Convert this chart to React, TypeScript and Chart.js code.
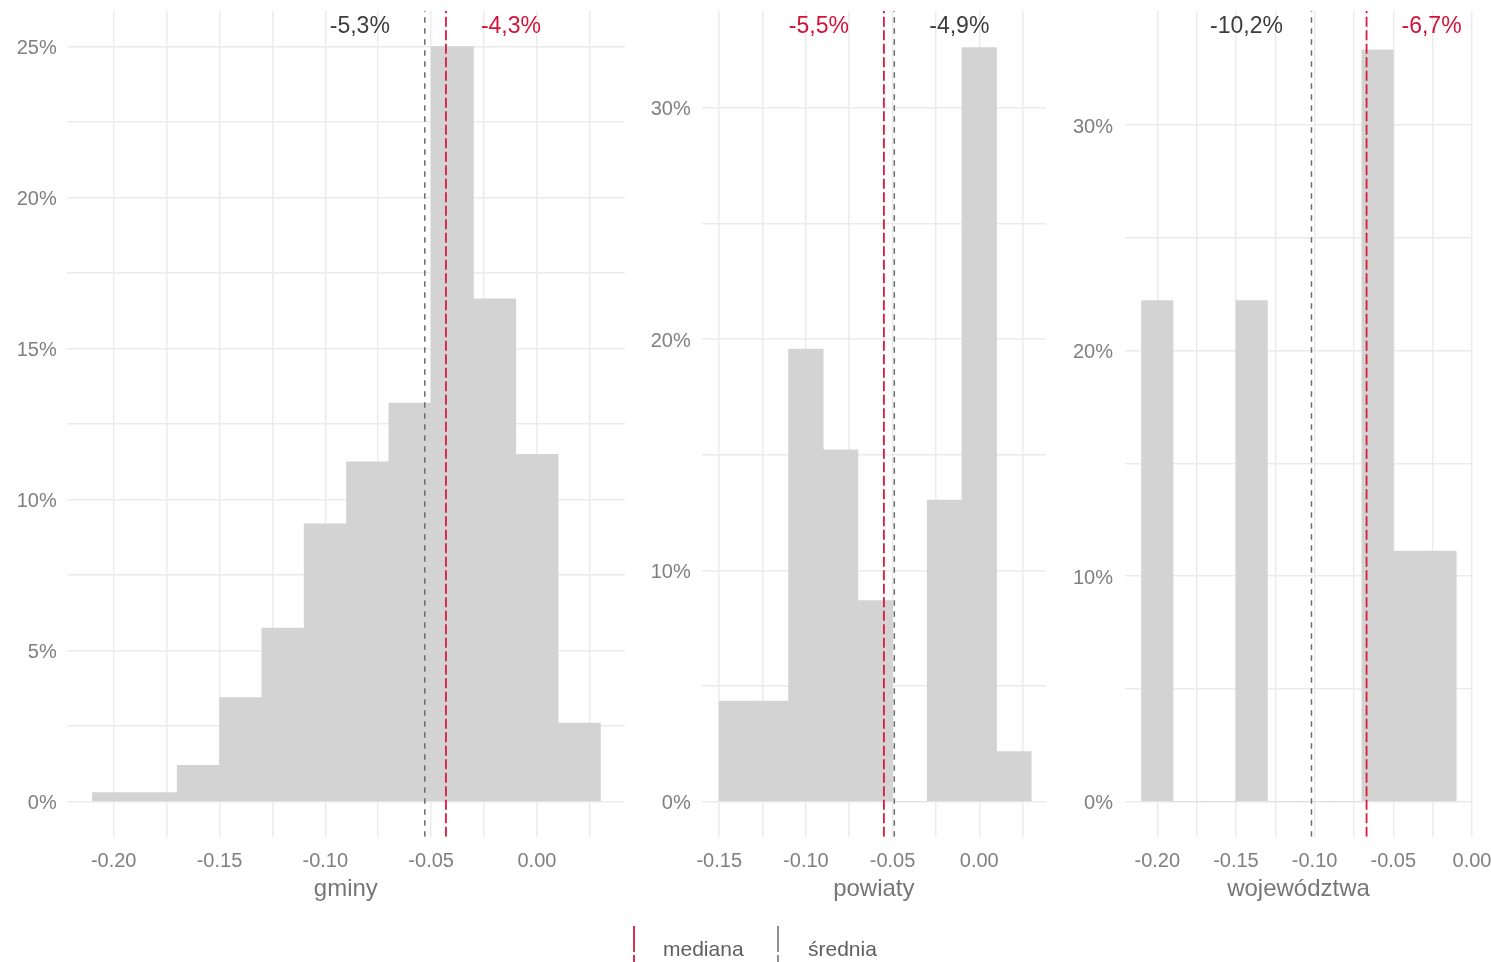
import React, { useEffect, useRef } from 'react';
import { Chart, registerables } from 'chart.js';

Chart.register(...registerables);

// ---- gminy ----
const gminyBins = [-0.2, -0.18, -0.16, -0.14, -0.12, -0.1, -0.08, -0.06, -0.04, -0.02, 0.0, 0.02];
const gminyShare = [0.3, 0.3, 1.2, 3.45, 5.75, 9.2, 11.25, 13.2, 25.0, 16.65, 11.5, 2.6];
const gminyMean = -0.053;
const gminyMedian = -0.043;
const gminyXTicks = [-0.2, -0.175, -0.15, -0.125, -0.1, -0.075, -0.05, -0.025, 0.0, 0.025];
const gminyXLabels = ['-0.20', '', '-0.15', '', '-0.10', '', '-0.05', '', '0.00', ''];
const gminyYTicks = [0, 2.5, 5, 7.5, 10, 12.5, 15, 17.5, 20, 22.5, 25];
const gminyYLabels = ['0%', '', '5%', '', '10%', '', '15%', '', '20%', '', '25%'];

// ---- powiaty ----
const powiatyBins = [-0.14, -0.12, -0.1, -0.08, -0.06, -0.04, -0.02, 0.0, 0.02];
const powiatyShare = [4.35, 4.35, 19.57, 15.22, 8.7, 0, 13.04, 32.61, 2.17];
const powiatyMean = -0.049;
const powiatyMedian = -0.055;
const powiatyXTicks = [-0.15, -0.125, -0.1, -0.075, -0.05, -0.025, 0.0, 0.025];
const powiatyXLabels = ['-0.15', '', '-0.10', '', '-0.05', '', '0.00', ''];
const powiatyYTicks = [0, 5, 10, 15, 20, 25, 30];
const powiatyYLabels = ['0%', '', '10%', '', '20%', '', '30%'];

// ---- województwa ----
const wojBins = [-0.2, -0.18, -0.16, -0.14, -0.12, -0.1, -0.08, -0.06, -0.04, -0.02];
const wojShare = [22.22, 0, 0, 22.22, 0, 0, 0, 33.33, 11.11, 11.11];
const wojMean = -0.102;
const wojMedian = -0.067;
const wojXTicks = [-0.2, -0.175, -0.15, -0.125, -0.1, -0.075, -0.05, -0.025, 0.0];
const wojXLabels = ['-0.20', '', '-0.15', '', '-0.10', '', '-0.05', '', '0.00'];
const wojYTicks = [0, 5, 10, 15, 20, 25, 30];
const wojYLabels = ['0%', '', '10%', '', '20%', '', '30%'];

const FONT = '"Liberation Sans", Arial, sans-serif';
const BAR = '#d3d3d3';
const GRID = '#ebebeb';
const TICK = '#808080';
const TITLE = '#777777';
const MEAN_COLOR = '#6b6b6b';
const MEDIAN_COLOR = '#d81b40';
const MEAN_TEXT = '#3d3d3d';
const MEDIAN_TEXT = '#d3123a';
const CANVAS_H = 909;

type Panel = {
  title: string;
  bins: number[];
  share: number[];
  mean: number;
  median: number;
  xTicks: number[];
  xLabels: string[];
  yTicks: number[];
  yLabels: string[];
  xMin: number;
  xMax: number;
  yMin: number;
  yMax: number;
  left: number;
  width: number;
  yAxisWidth: number;
  padRight: number;
  yTickPad: number;
};

const panels: Panel[] = [
  {
    title: 'gminy', bins: gminyBins, share: gminyShare, mean: gminyMean, median: gminyMedian,
    xTicks: gminyXTicks, xLabels: gminyXLabels, yTicks: gminyYTicks, yLabels: gminyYLabels,
    xMin: -0.2222, xMax: 0.0416, yMin: -1.16, yMax: 26.19,
    left: 0, width: 640, yAxisWidth: 66.7, padRight: 15, yTickPad: 10,
  },
  {
    title: 'powiaty', bins: powiatyBins, share: powiatyShare, mean: powiatyMean, median: powiatyMedian,
    xTicks: powiatyXTicks, xLabels: powiatyXLabels, yTicks: powiatyYTicks, yLabels: powiatyYLabels,
    xMin: -0.1601, xMax: 0.0385, yMin: -1.51, yMax: 34.2,
    left: 640, width: 420, yAxisWidth: 61.7, padRight: 14, yTickPad: 11,
  },
  {
    title: 'województwa', bins: wojBins, share: wojShare, mean: wojMean, median: wojMedian,
    xTicks: wojXTicks, xLabels: wojXLabels, yTicks: wojYTicks, yLabels: wojYLabels,
    xMin: -0.2205, xMax: 0.0, yMin: -1.55, yMax: 35.07,
    left: 1060, width: 440, yAxisWidth: 65, padRight: 28, yTickPad: 12,
  },
];

const formatPct = (v: number) => (v * 100).toFixed(1).replace('.', ',') + '%';

// Writes the mean / median values above the plot, beside their reference lines.
const valueLabels = {
  id: 'valueLabels',
  afterDatasetsDraw(chart: any, _args: any, opts: any) {
    const { ctx, scales } = chart;
    const x = scales.x;
    const items = [
      { v: opts.mean, color: MEAN_TEXT },
      { v: opts.median, color: MEDIAN_TEXT },
    ];
    const lowest = Math.min(opts.mean, opts.median);
    ctx.save();
    ctx.font = `23px ${FONT}`;
    ctx.textAlign = 'center';
    ctx.textBaseline = 'middle';
    for (const it of items) {
      const px = x.getPixelForValue(it.v);
      const cx = it.v === lowest ? px - 65 : px + 65;
      ctx.fillStyle = it.color;
      ctx.fillText(formatPct(it.v), cx, 27);
    }
    ctx.restore();
  },
};

function HistPanel({ p }: { p: Panel }) {
  const ref = useRef<HTMLCanvasElement | null>(null);

  useEffect(() => {
    if (!ref.current) return;
    const chart = new Chart(ref.current, {
      type: 'bar',
      data: {
        datasets: [
          {
            type: 'line',
            label: 'średnia',
            data: [{ x: p.mean, y: p.yMin }, { x: p.mean, y: p.yMax }],
            borderColor: MEAN_COLOR,
            borderWidth: 1.5,
            borderDash: [5.5, 5.5],
            pointRadius: 0,
            fill: false,
            order: 1,
          },
          {
            type: 'line',
            label: 'mediana',
            data: [{ x: p.median, y: p.yMin }, { x: p.median, y: p.yMax }],
            borderColor: MEDIAN_COLOR,
            borderWidth: 1.8,
            borderDash: [10, 3.5],
            pointRadius: 0,
            fill: false,
            order: 1,
          },
          {
            type: 'bar',
            label: p.title,
            data: p.bins.map((b, i) => ({ x: b, y: p.share[i] })),
            backgroundColor: BAR,
            borderWidth: 0,
            barPercentage: 1,
            categoryPercentage: 1,
            order: 2,
          },
        ] as any,
      },
      options: {
        animation: false,
        responsive: false,
        maintainAspectRatio: false,
        layout: { padding: { top: 10.7, right: p.padRight, left: 0, bottom: 0 } },
        scales: {
          x: {
            type: 'linear',
            min: p.xMin,
            max: p.xMax,
            bounds: 'data',
            offset: false,
            grid: { color: GRID, lineWidth: 1.5, drawTicks: false, offset: false },
            border: { display: false },
            afterBuildTicks: (s: any) => {
              s.ticks = p.xTicks.map((v) => ({ value: v }));
            },
            ticks: {
              autoSkip: false,
              maxRotation: 0,
              minRotation: 0,
              padding: 13,
              color: TICK,
              font: { family: FONT, size: 20 },
              callback: (_v: any, i: number) => p.xLabels[i],
            },
            title: {
              display: true,
              text: p.title,
              color: TITLE,
              font: { family: FONT, size: 24 },
              padding: { top: 0, bottom: 4.8 },
            },
            afterFit: (s: any) => {
              s.height = 72.3;
              s.paddingLeft = 0;
              s.paddingRight = 0;
              s.paddingTop = 0;
              s.paddingBottom = 0;
            },
          } as any,
          y: {
            type: 'linear',
            min: p.yMin,
            max: p.yMax,
            bounds: 'data',
            grid: { color: GRID, lineWidth: 1.5, drawTicks: false },
            border: { display: false },
            afterBuildTicks: (s: any) => {
              s.ticks = p.yTicks.map((v) => ({ value: v }));
            },
            ticks: {
              autoSkip: false,
              padding: p.yTickPad,
              labelOffset: 2,
              color: TICK,
              font: { family: FONT, size: 20 },
              callback: (_v: any, i: number) => p.yLabels[i],
            },
            afterFit: (s: any) => {
              s.width = p.yAxisWidth;
              s.paddingLeft = 0;
              s.paddingRight = 0;
              s.paddingTop = 0;
              s.paddingBottom = 0;
            },
          } as any,
        },
        plugins: {
          legend: { display: false },
          tooltip: { enabled: false },
          valueLabels: { mean: p.mean, median: p.median },
        } as any,
      },
      plugins: [valueLabels],
    });
    return () => chart.destroy();
  }, [p]);

  return (
    <canvas
      ref={ref}
      width={p.width}
      height={CANVAS_H}
      style={{ position: 'absolute', left: p.left, top: 0, width: p.width, height: CANVAS_H }}
    />
  );
}

export default function App() {
  useEffect(() => {
    document.body.style.margin = '0';
    document.body.style.overflow = 'hidden';
    document.body.style.background = '#ffffff';
  }, []);

  const legendText: React.CSSProperties = {
    position: 'absolute',
    top: 938,
    fontFamily: FONT,
    fontSize: 21,
    lineHeight: '21px',
    color: '#5f5f5f',
    whiteSpace: 'nowrap',
  };

  return (
    <div style={{ position: 'relative', width: 1491, height: 962, overflow: 'hidden', background: '#fff' }}>
      {panels.map((p) => (
        <HistPanel key={p.title} p={p} />
      ))}
      <svg width={1491} height={962} style={{ position: 'absolute', left: 0, top: 0, pointerEvents: 'none' }}>
        <line x1={634} y1={926} x2={634} y2={966} stroke={MEDIAN_COLOR} strokeWidth={1.8} strokeDasharray="26 3" />
        <line x1={778} y1={926} x2={778} y2={966} stroke={MEAN_COLOR} strokeWidth={1.5} strokeDasharray="26 3" />
      </svg>
      <span style={{ ...legendText, left: 663 }}>mediana</span>
      <span style={{ ...legendText, left: 808 }}>średnia</span>
    </div>
  );
}
